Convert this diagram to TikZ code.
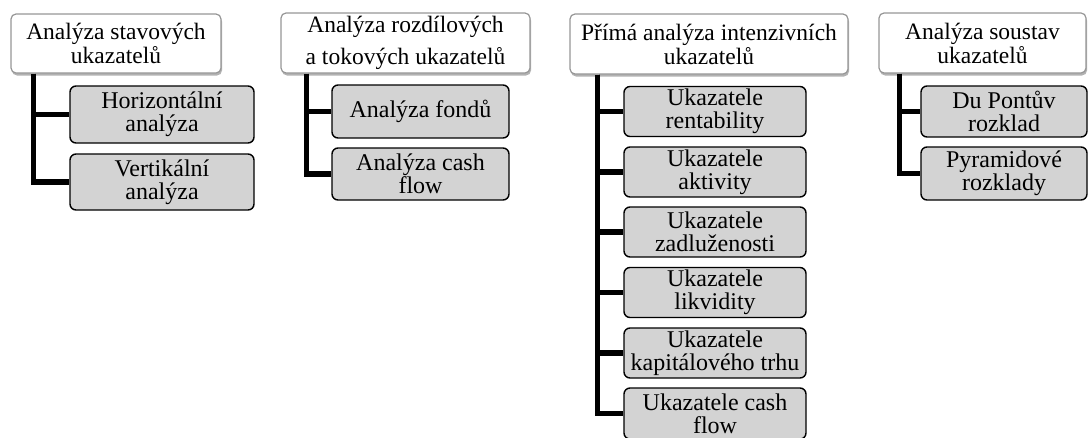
\documentclass[tikz,border=0pt]{standalone}
\usepackage{fontspec}
\setmainfont{Liberation Serif}
\usetikzlibrary{shadows}

\definecolor{subfill}{RGB}{211,211,211}
\definecolor{topline}{RGB}{150,150,150}

\tikzset{
    topbox/.style={draw=topline, line width=1.2pt, fill=white, rounded corners=5pt,
        drop shadow={shadow xshift=1pt, shadow yshift=-2.5pt, fill=black, opacity=0.3},
        align=center, inner sep=2pt, font=\fontsize{23.5}{24}\selectfont},
    subbox/.style={draw=black, line width=1.4pt, fill=subfill, rounded corners=6pt,
        align=center, inner sep=1pt, font=\fontsize{24}{23}\selectfont},
    conn/.style={line width=5.5pt, line join=miter},
}

\begin{document}
\begin{tikzpicture}[x=1pt,y=-1pt]
    \useasboundingbox (0,0) rectangle (1089,437);

    % stavove ukazatele
    \node[topbox, minimum width=210pt, minimum height=59pt] (stav) at (116,43.5) {Analýza stavových\\ukazatelů};
    \node[subbox, minimum width=184pt, minimum height=57pt] (hor) at (162,114.5) {Horizontální\\analýza};
    \node[subbox, minimum width=184pt, minimum height=56pt] (ver) at (162,182) {Vertikální\\analýza};
    \draw[conn] ([xshift=23pt]stav.south west) |- (hor.west);
    \draw[conn] ([xshift=23pt]stav.south west) |- (ver.west);

    % rozdilove a tokove ukazatele
    \node[topbox, minimum width=249pt, minimum height=60pt] (tok) at (405.5,43) {Analýza rozdílových\\[8pt]a tokových ukazatelů};
    \node[subbox, minimum width=177pt, minimum height=53pt] (fond) at (420.5,111.5) {Analýza fondů};
    \node[subbox, minimum width=177pt, minimum height=52pt] (cf) at (420.5,174) {Analýza cash\\flow};
    \draw[conn] ([xshift=26pt]tok.south west) |- (fond.west);
    \draw[conn] ([xshift=26pt]tok.south west) |- (cf.west);

    % intenzivni ukazatele
    \node[topbox, minimum width=278pt, minimum height=60pt] (int) at (709,44) {Přímá analýza intenzivních\\ukazatelů};
    \node[subbox, minimum width=182pt, minimum height=50pt] (rent) at (715,111.5) {Ukazatele\\rentability};
    \node[subbox, minimum width=182pt, minimum height=50pt] (akt) at (715,172) {Ukazatele\\aktivity};
    \node[subbox, minimum width=182pt, minimum height=50pt] (zadl) at (715,232) {Ukazatele\\zadluženosti};
    \node[subbox, minimum width=182pt, minimum height=50pt] (likv) at (715,292.5) {Ukazatele\\likvidity};
    \node[subbox, minimum width=182pt, minimum height=50pt] (kap) at (715,353) {Ukazatele\\kapitálového trhu};
    \node[subbox, minimum width=182pt, minimum height=51pt] (icf) at (715,413.5) {Ukazatele cash\\flow};
    \draw[conn] ([xshift=28pt]int.south west) |- (rent.west);
    \draw[conn] ([xshift=28pt]int.south west) |- (akt.west);
    \draw[conn] ([xshift=28pt]int.south west) |- (zadl.west);
    \draw[conn] ([xshift=28pt]int.south west) |- (likv.west);
    \draw[conn] ([xshift=28pt]int.south west) |- (kap.west);
    \draw[conn] ([xshift=28pt]int.south west) |- (icf.west);

    % soustavy ukazatelu
    \node[topbox, minimum width=207pt, minimum height=60pt] (sous) at (982.5,43) {Analýza soustav\\ukazatelů};
    \node[subbox, minimum width=166pt, minimum height=51pt] (dup) at (1004,111.5) {Du Pontův\\rozklad};
    \node[subbox, minimum width=166pt, minimum height=53pt] (pyr) at (1004,173.5) {Pyramidové\\rozklady};
    \draw[conn] ([xshift=21pt]sous.south west) |- (dup.west);
    \draw[conn] ([xshift=21pt]sous.south west) |- (pyr.west);
\end{tikzpicture}
\end{document}
